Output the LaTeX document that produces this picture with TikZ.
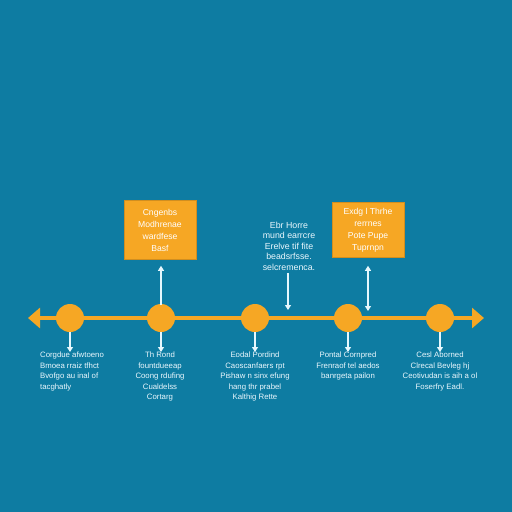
\documentclass[tikz,border=0pt]{standalone}
\usepackage{fontspec}
\setmainfont{Liberation Sans}
\usetikzlibrary{arrows.meta,positioning,calc}
\definecolor{seablue}{RGB}{14,124,162}
\definecolor{amber}{RGB}{246,167,36}
\tikzset{
  dot/.style={circle,fill=amber,minimum size=28pt,inner sep=0pt},
  card/.style={rectangle,fill=amber,draw=amber!85!black,line width=0.6pt,minimum width=72pt,align=center,text=white,font=\fontsize{8.6}{12}\selectfont},
  lbl/.style={text=white!92!cyan,align=center,font=\fontsize{7.8}{10.5}\selectfont,inner sep=1pt},
  pin/.style={draw=white!90!cyan,line width=1.1pt,-{Triangle[length=5pt,width=6pt]}},
  twopin/.style={pin,{Triangle[length=5pt,width=6pt]}-{Triangle[length=5pt,width=6pt]}}
}
\begin{document}
\begin{tikzpicture}[x=1pt,y=-1pt]
\fill[seablue](0,0)rectangle(512,512);
% the time line
\coordinate(tl) at (28,318);
\coordinate(tr) at (484,318);
\draw[amber,line width=4.5pt,{Triangle[length=12pt,width=20pt]}-{Triangle[length=12pt,width=20pt]}](tl)--(tr);
\node[dot](c1) at (70,318){};
\node[dot](c2) at (161,318){};
\node[dot](c3) at (255,318){};
\node[dot](c4) at (348,318){};
\node[dot](c5) at (440,318){};
% upper notes
\node[card,minimum height=59pt](b1) at (160,230){Cngenbs\\Modhrenae\\wardfese\\Basf};
\node[lbl,font=\fontsize{8.8}{10.5}\selectfont](t1) at (289,246){Ebr Horre\\mund earrcre\\Erelve tif fite\\beadsrfsse.\\selcremenca.};
\node[card,minimum height=55pt](b2) at (368,230){Exdg l Thrhe\\rerrnes\\Pote Pupe\\Tuprnpn};
\coordinate(d1) at (288,310);
\coordinate(d2) at (368,311);
\draw[pin]([yshift=-1pt]c2.north)--([yshift=-6pt]b1.south -| c2.north);
\draw[pin]([yshift=-2pt]t1.south -| d1)--(d1);
\draw[twopin]([yshift=-8pt]b2.south)--(d2);
% lower notes
\node[lbl,anchor=north,align=left](l1) at (72,351){Corgdue afwtoeno\\Bmoea rraiz tfhct\\Bvofgo au inal of\\tacghatly};
\node[lbl,anchor=north](l2) at (160,351){Th Rond\\fountdueeap\\Coong rdufing\\Cualdelss\\Cortarg};
\node[lbl,anchor=north](l3) at (255,351){Eodal Pordind\\Caoscanfaers rpt\\Pishaw n sinx efung\\hang thr prabel\\Kalthig Rette};
\node[lbl,anchor=north](l4) at (348,351){Pontal Cornpred\\Frenraof tel aedos\\banrgeta pailon};
\node[lbl,anchor=north](l5) at (440,351){Cesl Aborned\\Clrecal Bevleg hj\\Ceotivudan is aih a ol\\Foserfry Eadl.};
\foreach \i in {1,...,5}
  \draw[pin](c\i.south)--([yshift=-1pt]l\i.north -| c\i.south);
\end{tikzpicture}
\end{document}
